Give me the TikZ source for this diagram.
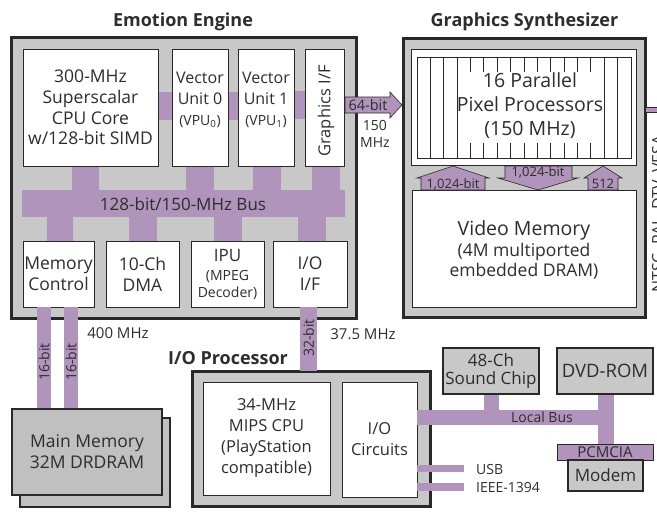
\documentclass[tikz,border=0pt]{standalone}
\usepackage{fontspec}
\setmainfont{Open Sans}
\definecolor{pu}{RGB}{176,148,188}
\definecolor{gr}{RGB}{200,200,200}
\definecolor{grd}{RGB}{192,192,192}
\definecolor{bd}{RGB}{40,40,40}
\definecolor{tx}{RGB}{45,45,45}
\newcommand\myfs[2]{\fontsize{#1}{#2}\selectfont}
\tikzset{
  chip/.style={draw=bd, fill=gr, line width=3pt, inner sep=0pt},
  wbox/.style={draw=bd, fill=white, line width=1pt, inner sep=0pt, align=center, text=tx},
  gbox/.style={draw=bd, fill=gr, line width=1.2pt, inner sep=0pt, align=center, text=tx},
  mbox/.style={draw=bd, fill=grd, line width=2pt, inner sep=0pt, align=center, text=tx},
  pbar/.style={fill=pu},
  parrow/.style={fill=pu, draw=bd, line width=0.6pt},
  lbl/.style={text=tx, inner sep=0pt, align=center},
  ttl/.style={text=tx, inner sep=0pt, font=\bfseries\myfs{18}{21}},
  body/.style={font=\myfs{17.5}{20.7}},
}
\begin{document}
\begin{tikzpicture}[x=1pt,y=-1pt]
\useasboundingbox (0,0) rectangle (657,512);
\clip (0,0) rectangle (657,512);

% ---------------- Emotion Engine ----------------
\node[ttl] (eet) at (183,22) {Emotion Engine};
\node[chip, minimum width=345, minimum height=281] (ee) at (183.5,177.5) {};
% bus and stubs
\fill[pbar] (22,190) rectangle (345,217);
\fill[pbar] (72,160) rectangle (99,190);
\fill[pbar] (186,160) rectangle (214,190);
\fill[pbar] (253,160) rectangle (281,190);
\fill[pbar] (312,160) rectangle (340,190);
\fill[pbar] (47,217) rectangle (73,245);
\fill[pbar] (129,217) rectangle (157,245);
\fill[pbar] (214,217) rectangle (242,245);
\fill[pbar] (298,217) rectangle (326,245);
\fill[pbar] (155,92) rectangle (175,120);
\fill[pbar] (225,92) rectangle (241,120);
\fill[pbar] (291,91) rectangle (308,119);
\node[lbl, font=\myfs{17}{20}] (buslbl) at (183,204) {128-bit/150-MHz Bus};

\node[wbox, body, minimum width=135, minimum height=117] (cpu) at (90.5,107.5)
  {300-MHz\\Superscalar\\CPU Core\\w/128-bit SIMD};
\node[wbox, minimum width=56, minimum height=117] (vu0) at (200,107.5) {};
\node[lbl, font=\myfs{16}{21}] (vu0t) at (200,100) {Vector\\Unit 0\\{\fontsize{14}{21}\selectfont (VPU\textsubscript{0})}};
\node[wbox, minimum width=56, minimum height=117] (vu1) at (266,107.5) {};
\node[lbl, font=\myfs{16}{21}] (vu1t) at (266,100) {Vector\\Unit 1\\{\fontsize{14}{21}\selectfont (VPU\textsubscript{1})}};
\node[wbox, minimum width=39, minimum height=117] (gif) at (324.5,107.5) {};
\node[lbl, rotate=90, font=\myfs{16.5}{20}] (gift) at (326,111) {Graphics I/F};

\node[wbox, body, minimum width=71, minimum height=66] (mc) at (58.5,274) {Memory\\Control};
\node[wbox, body, minimum width=73, minimum height=66] (dma) at (142.5,274) {10-Ch\\DMA};
\node[wbox, minimum width=73, minimum height=66] (ipu) at (227.5,274) {};
\node[lbl, font=\myfs{14}{17}] (iput) at (227.5,275) {{\fontsize{17}{20}\selectfont IPU}\\[2pt](MPEG\\Decoder)};
\node[wbox, body, minimum width=74, minimum height=66] (ioif) at (310,274) {I/O\\I/F};

% ---------------- Graphics Synthesizer ----------------
\node[ttl] (gst) at (524.5,22) {Graphics Synthesizer};
\node[chip, minimum width=242, minimum height=279] (gs) at (524,177.5) {};
\node[wbox, minimum width=225, minimum height=116] (ppo) at (523.5,107) {};
\draw[bd, line width=0.8pt] (417,57) rectangle (631,158);
\foreach \k in {1,...,15} \draw[bd, line width=0.8pt] ({417+\k*13.375},57) -- ({417+\k*13.375},158);
\fill[white] (459,72) rectangle (602,143);
\node[lbl, font=\myfs{19.5}{24}] (pp) at (530,106) {16 Parallel\\Pixel Processors\\(150 MHz)};
\node[wbox, minimum width=224, minimum height=117] (vm) at (524,248.5) {};
\node[lbl, font=\myfs{17.5}{20}] (vmt) at (524,250) {{\fontsize{19.5}{22}\selectfont Video Memory}\\[1pt](4M multiported\\embedded DRAM)};

% arrows between pixel processors and video memory
\draw[parrow] (421,190) -- (421,178) -- (417,178) -- (453,166) -- (489,178) -- (485,178) -- (485,190) -- cycle;
\node[lbl, font=\myfs{13}{15}] (a1) at (453,184) {1,024-bit};
\draw[parrow] (505,166) -- (572,166) -- (572,178) -- (578,178) -- (538,190) -- (498,178) -- (505,178) -- cycle;
\node[lbl, font=\myfs{13}{15}] (a2) at (538,172.5) {1,024-bit};
\draw[parrow] (588,190) -- (588,178) -- (584,178) -- (603,166) -- (622,178) -- (618,178) -- (618,190) -- cycle;
\node[lbl, font=\myfs{13}{15}] (a3) at (603,184) {512};

% 64-bit arrow
\draw[parrow] (345,97) -- (390,97) -- (390,92) -- (402,105) -- (390,118) -- (390,113) -- (345,113) -- cycle;
\node[lbl, font=\myfs{14.5}{16}] (b64) at (368,105) {64-bit};
\node[lbl, font=\myfs{14}{17.5}, anchor=north west] (f150) at (360,120) {150\\MHz};

% video output
\draw[parrow] (645,107) rectangle (662,112);
\node[lbl, rotate=90, anchor=base, font=\myfs{16}{18}] (vout) at (663.5,214) {NTSC, PAL, DTV, VESA};

% ---------------- Main memory ----------------
\fill[pbar] (37,307) rectangle (51,409);
\fill[pbar] (64,307) rectangle (78,409);
\node[lbl, rotate=90, font=\myfs{14}{16}] (m16a) at (44,362) {16-bit};
\node[lbl, rotate=90, font=\myfs{14}{16}] (m16b) at (71,362) {16-bit};
\node[lbl, font=\myfs{15}{17}] (m400) at (118,333) {400 MHz};
\node[mbox, minimum width=150, minimum height=89] (mmb) at (95,462.5) {};
\node[mbox, font=\myfs{17.5}{21}, minimum width=150, minimum height=86] (mm) at (87,452) {Main Memory\\32M DRDRAM};

% ---------------- I/O Processor ----------------
\node[ttl] (iopt) at (228,358) {I/O Processor};
\node[chip, minimum width=238, minimum height=135] (iop) at (311,438.5) {};
\fill[pbar] (300,307) rectangle (317,371);
\node[lbl, rotate=90, font=\myfs{14}{16}] (b32) at (308.5,338) {32-bit};
\node[lbl, font=\myfs{15}{17}] (f375) at (363,334) {37.5 MHz};
\node[wbox, font=\myfs{16.5}{21}, minimum width=127, minimum height=113] (mips) at (266.5,438.5)
  {34-MHz\\MIPS CPU\\(PlayStation\\compatible)};
\node[wbox, font=\myfs{16.5}{21}, minimum width=75, minimum height=115] (ioc) at (379.5,439.5) {I/O\\Circuits};

% local bus
\fill[pbar] (417,410) rectangle (614,425);
\fill[pbar] (598,394) rectangle (614,444);
\fill[pbar] (484,394) rectangle (499,410);
\node[lbl, font=\myfs{14}{16}] (lb) at (542,417.5) {Local Bus};
\node[gbox, font=\myfs{17}{18}, minimum width=96, minimum height=46] (snd) at (491,371) {48-Ch\\Sound Chip};
\node[gbox, font=\myfs{18.5}{20}, minimum width=96, minimum height=46] (dvd) at (605,371) {DVD-ROM};
\node[parrow, lbl, font=\myfs{15}{16}, minimum width=96, minimum height=16] (pcm) at (605,452) {PCMCIA};
\node[gbox, font=\myfs{17}{18}, minimum width=75, minimum height=31] (modem) at (605.5,475.5) {Modem};

% USB / IEEE-1394
\fill[pbar] (417,465) rectangle (464,472);
\fill[pbar] (417,483) rectangle (464,491);
\node[lbl, font=\myfs{14}{16}, anchor=west] (usb) at (476,469) {USB};
\node[lbl, font=\myfs{14}{16}, anchor=west] (ieee) at (476,487.5) {IEEE-1394};
\end{tikzpicture}
\end{document}
